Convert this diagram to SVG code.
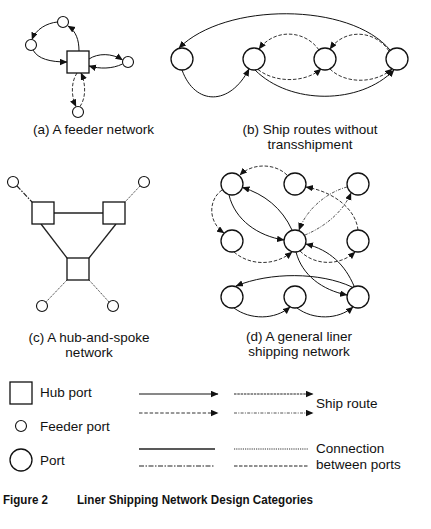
<svg xmlns="http://www.w3.org/2000/svg" width="431" height="529" viewBox="0 0 431 529">
<style>
.bg{fill:#fff}
.hub{fill:#fff;stroke:#111;stroke-width:1.3}
.feed{fill:#fff;stroke:#111;stroke-width:1.1}
.port{fill:#fff;stroke:#111;stroke-width:1.3}
.e{fill:none;stroke:#111;stroke-width:1;marker-end:url(#ah)}
.ed{fill:none;stroke:#333;stroke-width:1;stroke-dasharray:3.5,1.8;marker-end:url(#ah)}
.edd{fill:none;stroke:#555;stroke-width:1;stroke-dasharray:3,1.3,1,1.3;marker-end:url(#ah)}
.efine{fill:none;stroke:#222;stroke-width:1;stroke-dasharray:2.5,0.8;marker-end:url(#ah)}
.c{fill:none;stroke:#222;stroke-width:1.3}
.cdot{fill:none;stroke:#333;stroke-width:1;stroke-dasharray:1.2,1}
.cdd{fill:none;stroke:#222;stroke-width:1.2;stroke-dasharray:5,1.5,1.5,1.5}
.cdash{fill:none;stroke:#222;stroke-width:1.1;stroke-dasharray:3.5,1.5}
text{font-family:"Liberation Sans",Arial,Helvetica,sans-serif;font-size:13.5px;fill:#111}
.mid{text-anchor:middle}
.cap{font-weight:bold;font-size:13px}
</style>
<defs>
<marker id="ah" markerUnits="userSpaceOnUse" markerWidth="8" markerHeight="7" refX="7" refY="3.2" orient="auto">
<path d="M0,0 L7.5,3.2 L0,6.4 z" fill="#111"/>
</marker>
</defs>
<rect class="bg" x="0" y="0" width="431" height="529"/>

<!-- (a) feeder network -->
<g id="a-connectors">
<path class="e" d="M79,51 C79,40 76,31 68,26"/>
<path class="e" d="M57.5,22 C47,23 36,29 32,39.5"/>
<path class="e" d="M33,50 C38,59 50,62 67,62"/>
<path class="e" d="M89,59 C98,53 112,53 122.5,60"/>
<path class="e" d="M122.5,64 C112,69 100,69 89,66"/>
<path class="ed" d="M80,106.5 C86,98 86,84 81,73"/>
<path class="ed" d="M77,73 C71,82 71,96 76,106.5"/>
</g>
<g id="a-hub"><rect class="hub" x="67" y="51" width="22" height="22"/></g>
<g id="a-feeder-top"><circle class="feed" cx="63" cy="22" r="5.5"/></g>
<g id="a-feeder-left"><circle class="feed" cx="31" cy="45" r="5.5"/></g>
<g id="a-feeder-right"><circle class="feed" cx="128" cy="62" r="5.5"/></g>
<g id="a-feeder-bottom"><circle class="feed" cx="78" cy="112" r="5.5"/></g>
<text class="mid" x="93.5" y="134">(a) A feeder network</text>

<!-- (b) ship routes without transshipment -->
<g id="b-connectors">
<path class="e" d="M390,50 C350,2 225,2 179,48"/>
<path class="ed" d="M389,51 C375,30 345,28 330,49"/>
<path class="ed" d="M319,50 C305,30 275,28 259,49"/>
<path class="ed" d="M258,69.5 C275,83 305,83 321,69"/>
<path class="ed" d="M330,69 C345,84 375,84 392,69"/>
<path class="e" d="M255,70 C290,105 360,105 394,70"/>
<path class="e" d="M182,70 C195,106 230,106 249,69"/>
</g>
<g id="b-port1"><circle class="port" cx="182" cy="59" r="11"/></g>
<g id="b-port2"><circle class="port" cx="254" cy="59" r="11"/></g>
<g id="b-port3"><circle class="port" cx="325" cy="59" r="11"/></g>
<g id="b-port4"><circle class="port" cx="397" cy="59" r="11"/></g>
<text class="mid" x="310" y="134">(b) Ship routes without</text>
<text class="mid" x="310" y="149">transshipment</text>

<!-- (c) hub-and-spoke -->
<g id="c-connectors">
<line class="c" x1="54" y1="213" x2="103" y2="213"/>
<line class="c" x1="41" y1="224" x2="67" y2="258"/>
<line class="c" x1="116" y1="224" x2="89" y2="258"/>
<line class="cdd" x1="17" y1="186" x2="32" y2="202"/>
<line class="cdot" x1="140" y1="186" x2="125" y2="202"/>
<line class="cdot" x1="67" y1="280" x2="46" y2="302"/>
<line class="cdot" x1="89" y1="280" x2="109" y2="302"/>
</g>
<g id="c-hub-left"><rect class="hub" x="32" y="202" width="22" height="22"/></g>
<g id="c-hub-right"><rect class="hub" x="103" y="202" width="22" height="22"/></g>
<g id="c-hub-bottom"><rect class="hub" x="67" y="258" width="22" height="22"/></g>
<g id="c-feeder-tl"><circle class="feed" cx="13" cy="182" r="5.5"/></g>
<g id="c-feeder-tr"><circle class="feed" cx="144" cy="182" r="5.5"/></g>
<g id="c-feeder-bl"><circle class="feed" cx="42" cy="306" r="5.5"/></g>
<g id="c-feeder-br"><circle class="feed" cx="113" cy="306" r="5.5"/></g>
<text class="mid" x="89" y="342">(c) A hub-and-spoke</text>
<text class="mid" x="89" y="357">network</text>

<!-- (d) general liner shipping network -->
<g id="d-connectors">
<path class="e" d="M229,195 C235,220 258,236 284,240"/>
<path class="e" d="M292,230 C282,208 264,194 242.5,187.5"/>
<path class="e" d="M296,252 C302,275 322,290 347,295"/>
<path class="e" d="M354,286 C345,265 330,250 306,244"/>
<path class="e" d="M352,287 C320,272 270,272 236,286"/>
<path class="e" d="M234,308 C250,320 275,320 290,307"/>
<path class="e" d="M297,308 C313,320 338,320 353,307"/>
<path class="ed" d="M300,251 C315,266 340,266 355,252"/>
<path class="ed" d="M358,230 C356,210 335,192 306,187"/>
<path class="ed" d="M287,175 C275,163 252,163 240,175"/>
<path class="ed" d="M222,190 C208,200 208,222 224,233"/>
<path class="ed" d="M234,252 C250,266 275,266 292,252"/>
<path class="edd" d="M305,235 C322,228 342,214 351,193"/>
<path class="edd" d="M347,187 C328,192 307,208 299,230"/>
</g>
<g id="d-port-a"><circle class="port" cx="232" cy="184" r="11"/></g>
<g id="d-port-b"><circle class="port" cx="295" cy="184" r="11"/></g>
<g id="d-port-c"><circle class="port" cx="358" cy="184" r="11"/></g>
<g id="d-port-d"><circle class="port" cx="232" cy="241" r="11"/></g>
<g id="d-port-e"><circle class="port" cx="295" cy="241" r="11"/></g>
<g id="d-port-f"><circle class="port" cx="358" cy="241" r="11"/></g>
<g id="d-port-g"><circle class="port" cx="232" cy="297" r="11"/></g>
<g id="d-port-h"><circle class="port" cx="295" cy="297" r="11"/></g>
<g id="d-port-i"><circle class="port" cx="358" cy="297" r="11"/></g>
<text class="mid" x="299" y="341">(d) A general liner</text>
<text class="mid" x="299" y="356">shipping network</text>

<!-- legend -->
<g id="legend-hub"><rect class="hub" x="10" y="382" width="22" height="22"/><text x="40" y="397">Hub port</text></g>
<g id="legend-feeder"><circle class="feed" cx="21" cy="426" r="5.5"/><text x="40" y="431">Feeder port</text></g>
<g id="legend-port"><circle class="port" cx="21" cy="460" r="11"/><text x="40" y="465">Port</text></g>
<g id="legend-routes">
<line class="e" x1="139" y1="394" x2="218" y2="394"/>
<line class="efine" x1="234" y1="394" x2="313" y2="394"/>
<line class="ed" x1="139" y1="413" x2="218" y2="413"/>
<line class="edd" x1="234" y1="413" x2="313" y2="413"/>
<text x="316" y="408">Ship route</text>
</g>
<g id="legend-connections">
<line class="c" x1="139" y1="449" x2="215" y2="449"/>
<line class="cdot" x1="234" y1="449" x2="308" y2="449"/>
<line class="cdd" x1="139" y1="466" x2="215" y2="466"/>
<line class="cdash" x1="234" y1="466" x2="308" y2="466"/>
<text x="316" y="453">Connection</text>
<text x="316" y="469">between ports</text>
</g>

<text class="cap" x="3" y="504" textLength="45" lengthAdjust="spacingAndGlyphs">Figure 2</text>
<text class="cap" x="77" y="504" textLength="236" lengthAdjust="spacingAndGlyphs">Liner Shipping Network Design Categories</text>
</svg>
